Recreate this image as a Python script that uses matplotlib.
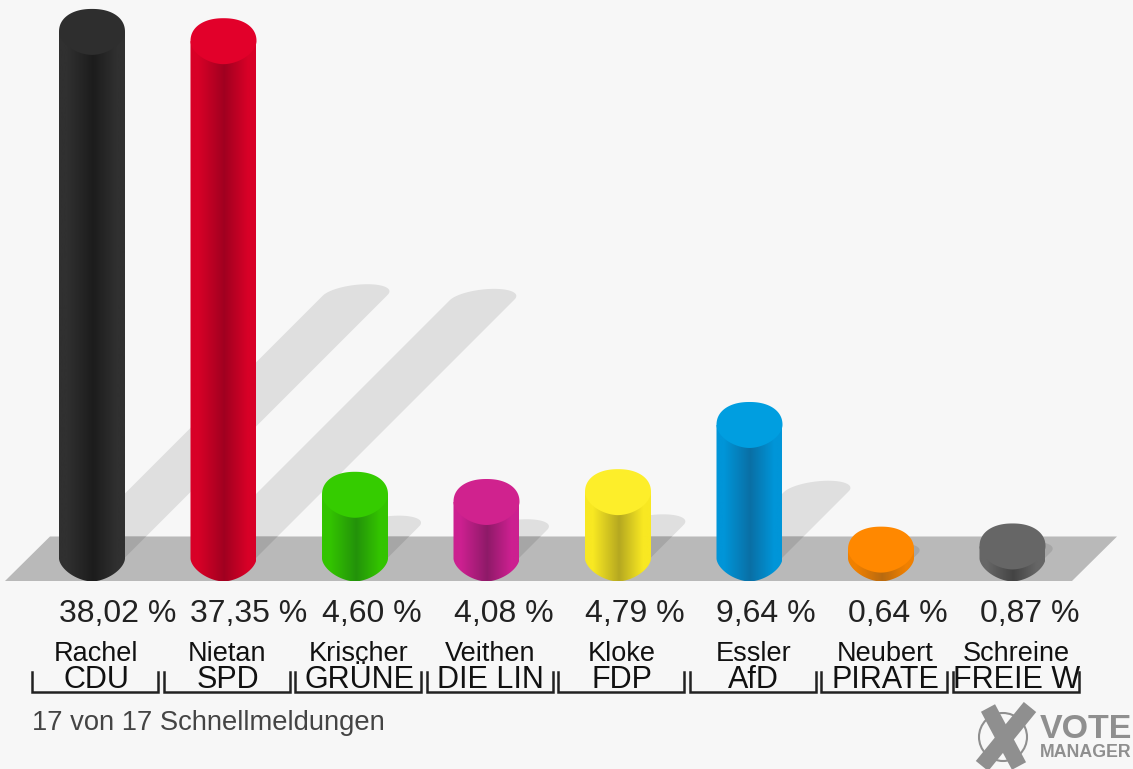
import matplotlib
matplotlib.use('Agg')
import matplotlib.pyplot as plt
import numpy as np
from matplotlib.colors import LinearSegmentedColormap
from matplotlib.patches import Circle, Polygon

plt.rcParams['font.family'] = ['Liberation Sans', 'DejaVu Sans']

# data
names = ['Rachel', 'Nietan', 'Krischer', 'Veithen', 'Kloke', 'Essler', 'Neubert', 'Schreine']
parties = ['CDU', 'SPD', 'GRÜNE', 'DIE LIN', 'FDP', 'AfD', 'PIRATE', 'FREIE W']
values = [38.02, 37.35, 4.60, 4.08, 4.79, 9.64, 0.64, 0.87]
value_labels = ['38,02 %', '37,35 %', '4,60 %', '4,08 %', '4,79 %', '9,64 %', '0,64 %', '0,87 %']
top_colors = ['#2e2e2e', '#e2002a', '#35cc00', '#d0228e', '#fdee2a', '#009ee0', '#ff8800', '#666666']
side_colors = ['#303030', '#d80027', '#33c400', '#cc2090', '#f8e822', '#0095d8', '#f08000', '#666666']
mid_colors = ['#1c1c1c', '#a00020', '#23920a', '#8e1a68', '#b5a820', '#0a6fa5', '#b86a10', '#444444']

BG = '#f7f7f7'
W, H = 1133, 769
X0, X_STEP = 92, 131.5    # pixel of the first bar, pixels per bar
Y0, Y_STEP = 558.5, 13.85  # pixel of 0 %, pixels per %
RX, RY = 33 / X_STEP, 23 / Y_STEP

fig = plt.figure(figsize=(W / 100, H / 100), dpi=100, facecolor=BG)

# chart axes: x = bar number, y = percent
ax = fig.add_axes([0, 0, 1, 1], facecolor=BG)
xlim = (-X0 / X_STEP, (W - X0) / X_STEP)
ylim = ((Y0 - H) / Y_STEP, Y0 / Y_STEP)

plat_px = [(5, 581), (50, 536.5), (1117, 536.5), (1072, 581)]
plat_xy = [((px - X0) / X_STEP, (Y0 - py) / Y_STEP) for px, py in plat_px]
platform = Polygon(plat_xy, closed=True, fc='#b9b9b9', ec='none', zorder=2)
ax.add_patch(platform)


def arc(cx, cy, t, n):
    # superellipse arc, n below 2 gives the pointed look of the bars
    c, s = np.cos(t), np.sin(t)
    return (cx + RX * np.sign(c) * np.abs(c) ** (2 / n),
            cy + RY * np.sign(s) * np.abs(s) ** (2 / n))


def shadow_points(i, v):
    tx = i + v * 0.5 * Y_STEP / X_STEP
    ty = v * 0.5
    t = np.linspace(0, np.pi, 40)
    ex = tx + (32 * np.cos(t) + 12 * np.sin(t)) / X_STEP
    ey = ty + 11 * np.sin(t) / Y_STEP
    xs = np.concatenate([[i + 32 / X_STEP], ex, [i - 32 / X_STEP]])
    ys = np.concatenate([[0], ey, [0]])
    return np.column_stack([xs, ys])


for i, v in enumerate(values):
    pts = shadow_points(i, v)
    ax.add_patch(Polygon(pts, closed=True, fc='#dfdfdf', ec='none', zorder=1))
    dark = Polygon(pts, closed=True, fc='#a6a6a6', ec='none', zorder=3)
    ax.add_patch(dark)
    dark.set_clip_path(platform)

for i, v in enumerate(values):
    # body with the soft dark band down the middle
    stops = [(0, side_colors[i]), (0.12, side_colors[i]), (0.52, mid_colors[i]), (0.88, side_colors[i]), (1, side_colors[i])]
    cmap = LinearSegmentedColormap.from_list('c', stops)
    im = ax.imshow(np.linspace(0, 1, 128).reshape(1, -1), cmap=cmap, aspect='auto',
                   extent=(i - RX, i + RX, -RY, v), zorder=4)
    bx, by = arc(i, 0, np.linspace(np.pi, 2 * np.pi, 60), 1.7)
    body = Polygon(np.column_stack([np.r_[i - RX, bx, i + RX], np.r_[v, by, v]]),
                   closed=True, fc='none', ec='none', transform=ax.transData)
    ax.add_patch(body)
    im.set_clip_path(body)
    # top cap, round above and slightly pointed below
    ux, uy = arc(i, v, np.linspace(0, np.pi, 60), 2.2)
    lx, ly = arc(i, v, np.linspace(np.pi, 2 * np.pi, 60), 1.8)
    ax.add_patch(Polygon(np.column_stack([np.r_[ux, lx], np.r_[uy, ly]]), closed=True,
                         fc=top_colors[i], ec='none', zorder=5))

ax.set_xlim(xlim)
ax.set_ylim(ylim)
ax.axis('off')

# labels and logo in pixel coordinates
lab = fig.add_axes([0, 0, 1, 1], facecolor='none')
lab.set_xlim(0, W)
lab.set_ylim(H, 0)
lab.axis('off')

for i in range(len(values)):
    cx = X0 + i * X_STEP
    lab.text(cx - 33, 622, value_labels[i], fontsize=23, color='#222222', ha='left', va='baseline')
    lab.text(cx + 4, 661, names[i], fontsize=19.5, color='#111111', ha='center', va='baseline')
    lab.text(cx + 4, 688, parties[i], fontsize=22, color='#111111', ha='center', va='baseline')
    lab.plot([cx - 60, cx - 60, cx + 66, cx + 66], [672, 692, 692, 672], color='#222222', lw=1.8,
             solid_joinstyle='miter', clip_on=False)

lab.text(32, 730, '17 von 17 Schnellmeldungen', fontsize=19.7, color='#444444', ha='left', va='baseline')

GR = '#8f8f8f'
lab.add_patch(Circle((1003, 737), 24, fc='none', ec=GR, lw=1.5))
lab.plot([988, 1019], [708, 766], color=GR, lw=11.5, solid_capstyle='butt')
lab.plot([1030, 982], [707, 766], color=GR, lw=11.5, solid_capstyle='butt')
lab.text(1040, 738, 'VOTE', fontsize=24.5, fontweight='bold', color=GR, ha='left', va='baseline')
lab.text(1040, 757, 'MANAGER', fontsize=12.8, fontweight='bold', color=GR, ha='left', va='baseline')

fig.savefig('out.png', dpi=100, facecolor=BG)
